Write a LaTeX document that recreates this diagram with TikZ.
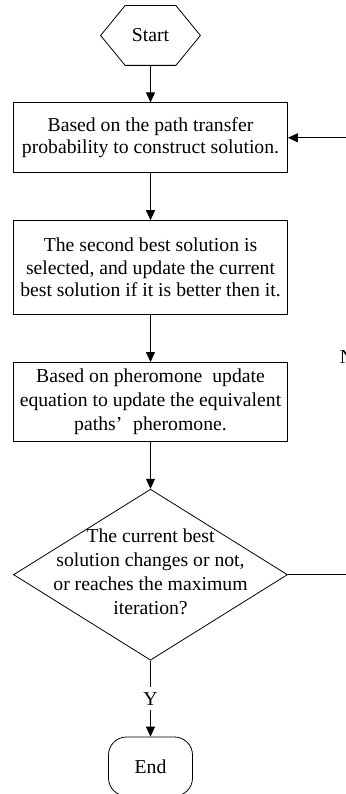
\documentclass[tikz,border=0pt]{standalone}
\usepackage{fontspec}
\setmainfont{Liberation Serif}
\usetikzlibrary{arrows.meta, positioning, shapes.geometric}

% text inside the decision diamond, kept from resizing the shape
\newcommand{\decisiontext}[1]{\makebox[0pt]{\smash{\raisebox{-4pt}{\begin{tabular}{@{}c@{}}#1\end{tabular}}}}}

\begin{document}
\begin{tikzpicture}[
    x=1pt, y=1pt,
    >={Triangle[length=10pt, width=9pt]},
    node distance=47pt,
    line width=0.8pt,
    process/.style={
        draw,
        rectangle,
        minimum width=274pt,
        align=center,
        inner sep=0pt,
        font=\fontsize{19.7}{22.5}\selectfont
    },
    decision/.style={
        draw,
        diamond,
        minimum width=274pt,
        minimum height=171pt,
        inner sep=0pt,
        font=\fontsize{19.7}{24}\selectfont
    },
    terminal/.style={
        draw,
        rounded corners=18pt,
        minimum width=84pt,
        minimum height=59pt,
        font=\fontsize{19.7}{22}\selectfont
    },
    flow/.style={->}
]
\useasboundingbox (0,0) rectangle (345,-794);

\node[inner sep=0pt, minimum width=50pt, minimum height=59pt,
      font=\fontsize{19.7}{22}\selectfont] (start) at (150.5,-35.5) {Start};
\draw (start.north west) -- (start.north east) -- ([xshift=24.5pt]start.east)
    -- (start.south east) -- (start.south west) -- ([xshift=-24.5pt]start.west) -- cycle;

\node[process, minimum height=70pt, below=37pt of start] (build)
    {Based on the path transfer\\ probability to construct solution.};
\node[process, minimum height=94pt, below=of build] (second)
    {The second best solution is\\ selected, and update the current\\ best solution if it is better then it.};
\node[process, minimum height=79pt, below=of second,
      font=\fontsize{19.7}{24}\selectfont] (phero)
    {Based on pheromone\ \ update\\ equation to update the equivalent\\ paths’\hspace{0.55em}pheromone.};
\node[decision, below=of phero] (check)
    {\decisiontext{The current best\\ solution changes or not,\\ or reaches the maximum\\ iteration?}};
\node[terminal, below=76pt of check] (stop) {End};

\coordinate (rightedge) at (350,0);
\node[anchor=base west, inner sep=0pt, font=\fontsize{19.7}{22}\selectfont] (no) at (339.5,-363) {N};

\draw[flow] (start) -- (build);
\draw[flow] (build) -- (second);
\draw[flow] (second) -- (phero);
\draw[flow] (phero) -- (check);
\draw[flow] (check) -- node[fill=white, inner xsep=2pt, inner ysep=5pt,
    font=\fontsize{19.7}{22}\selectfont] {Y} (stop);
\draw (check.east) -- (check.east -| rightedge);
\draw[flow] (build.east -| rightedge) -- (build.east);
\end{tikzpicture}
\end{document}
